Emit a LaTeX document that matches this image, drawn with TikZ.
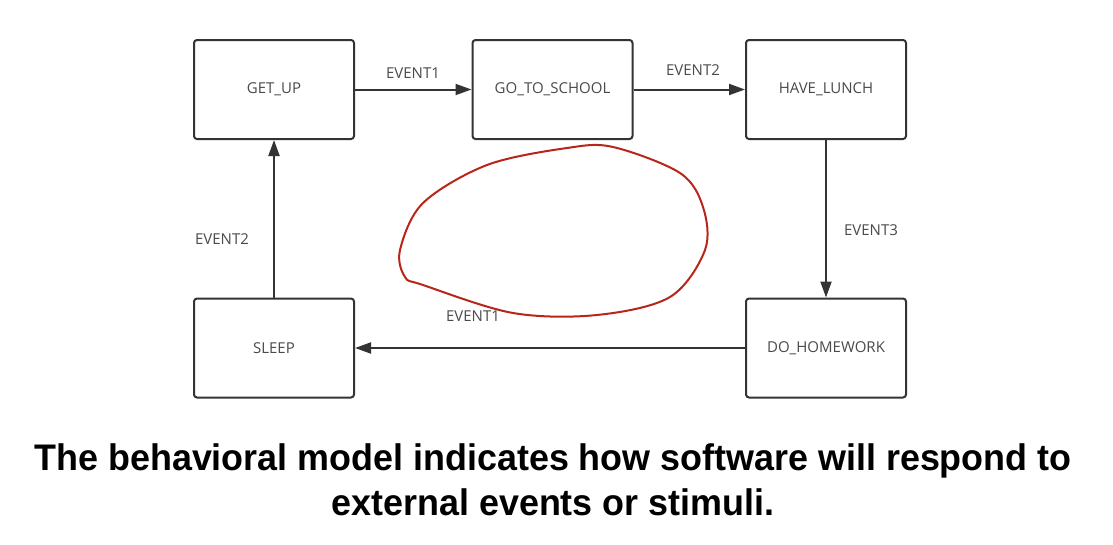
\documentclass[tikz,border=0pt]{standalone}
\usepackage{fontspec}
\setmainfont{Open Sans}
\newfontfamily\capfont{Liberation Sans}
\usetikzlibrary{arrows.meta}
\definecolor{boxline}{HTML}{333333}
\definecolor{labtext}{HTML}{4A4A4A}
\definecolor{redline}{HTML}{B8261A}
\begin{document}
\begin{tikzpicture}[x=1pt,y=-1pt,
  state/.style={draw=boxline, line width=2pt, rounded corners=3pt, minimum width=160pt, minimum height=99pt, inner sep=0pt, text=labtext, font=\fontsize{15}{17}\selectfont},
  evlabel/.style={text=labtext, font=\fontsize{15}{17}\selectfont, inner sep=0pt},
  conn/.style={draw=boxline, line width=2pt, -{Triangle[length=16pt,width=11pt]}}]
\useasboundingbox[fill=white] (0,0) rectangle (1113,544);
\node[state] (getup) at (274,89.5) {GET\_UP};
\node[state] (school) at (552.5,89.5) {GO\_TO\_SCHOOL};
\node[state] (lunch) at (826,89.5) {HAVE\_LUNCH};
\node[state] (sleep) at (274,348) {SLEEP};
\node[state] (homework) at (826,348) {DO\_HOMEWORK};
\draw[conn] (getup) -- (school);
\draw[conn] (school) -- (lunch);
\draw[conn] (lunch) -- (homework);
\draw[conn] (homework) -- (sleep);
\draw[conn] (sleep) -- (getup);
\node[evlabel] (l1) at (413,73) {EVENT1};
\node[evlabel] (l2) at (693,70) {EVENT2};
\node[evlabel] (l3) at (871,230) {EVENT3};
\node[evlabel] (l4) at (222,239) {EVENT2};
\node[evlabel] (l5) at (473,316) {EVENT1};
\draw[redline, line width=2pt] plot[smooth cycle, tension=0.55] coordinates {
  (613,147) (567,148) (487,165) (423,203) (400,250) (405,277) (423,285)
  (513,313) (597,315) (670,297) (705,250) (703,207) (680,173)};
\node[inner sep=0pt, align=center, font=\capfont\bfseries\fontsize{37}{45}\selectfont] (caption) at (553,480)
  {\scalebox{0.97}[1]{The behavioral model indicates how software will respond to}\\
   \scalebox{0.97}[1]{external events or stimuli.}};
\end{tikzpicture}
\end{document}
